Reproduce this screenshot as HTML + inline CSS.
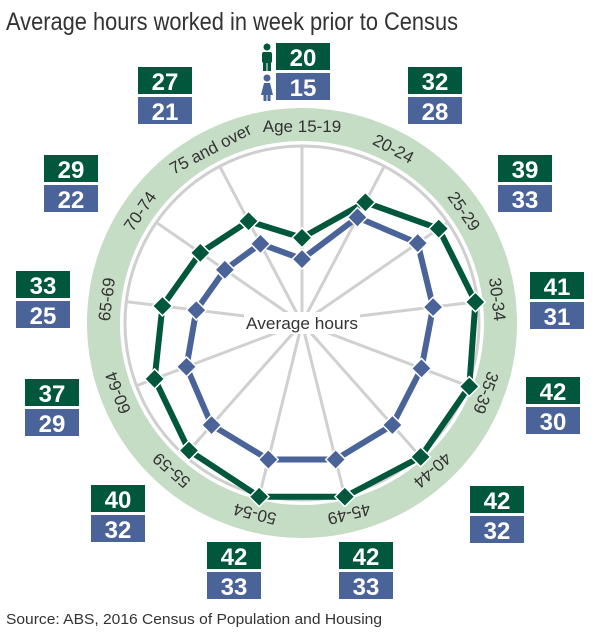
<!DOCTYPE html>
<html><head><meta charset="utf-8"><style>
html,body{margin:0;padding:0;background:#fff;width:600px;height:643px;overflow:hidden}
svg{display:block;font-family:"Liberation Sans",sans-serif}
</style></head><body>
<svg id="s" width="600" height="643" viewBox="0 0 600 643">
<text x="6" y="30" font-size="25" fill="#333" textLength="452" lengthAdjust="spacingAndGlyphs">Average hours worked in week prior to Census</text>
<circle cx="302" cy="323" r="198.5" fill="none" stroke="#c5dcc5" stroke-width="33"/>
<circle cx="302" cy="323" r="177" fill="none" stroke="#cfcfcf" stroke-width="3"/>
<g id="spokes" stroke="#d0d0d0" stroke-width="3"></g>
<rect x="244" y="312" width="116" height="22" fill="#fff"/>
<text x="302" y="329" font-size="17" fill="#333" text-anchor="middle" textLength="112" lengthAdjust="spacingAndGlyphs">Average hours</text>
<g id="series"></g>
<g font-size="17" fill="#333" text-anchor="middle">
<text x="302" y="132" transform="rotate(0 302 323)">Age 15-19</text>
<text x="302" y="132" transform="rotate(27.69 302 323)">20-24</text>
<text x="302" y="132" transform="rotate(55.38 302 323)">25-29</text>
<text x="302" y="132" transform="rotate(83.08 302 323)">30-34</text>
<text x="302" y="132" transform="rotate(110.77 302 323)">35-39</text>
<text x="302" y="132" transform="rotate(138.46 302 323)">40-44</text>
<text x="302" y="132" transform="rotate(166.15 302 323)">45-49</text>
<text x="302" y="132" transform="rotate(193.85 302 323)">50-54</text>
<text x="302" y="132" transform="rotate(221.54 302 323)">55-59</text>
<text x="302" y="132" transform="rotate(249.23 302 323)">60-64</text>
<text x="302" y="132" transform="rotate(276.92 302 323)">65-69</text>
<text x="302" y="132" transform="rotate(304.62 302 323)">70-74</text>
<text x="302" y="132" transform="rotate(332.31 302 323)">75 and over</text>
</g>
<g font-size="24" font-weight="bold" fill="#fff" text-anchor="middle">
<rect x="276" y="43" width="54" height="27" fill="#00573b"/><rect x="276" y="73" width="54" height="27" fill="#4a6399"/><text x="303" y="66">20</text><text x="303" y="96">15</text>
<rect x="408" y="67" width="54" height="27" fill="#00573b"/><rect x="408" y="97" width="54" height="27" fill="#4a6399"/><text x="435" y="90">32</text><text x="435" y="120">28</text>
<rect x="498" y="155" width="54" height="27" fill="#00573b"/><rect x="498" y="185" width="54" height="27" fill="#4a6399"/><text x="525" y="178">39</text><text x="525" y="208">33</text>
<rect x="530" y="272" width="54" height="27" fill="#00573b"/><rect x="530" y="302" width="54" height="27" fill="#4a6399"/><text x="557" y="295">41</text><text x="557" y="325">31</text>
<rect x="526" y="377" width="54" height="27" fill="#00573b"/><rect x="526" y="407" width="54" height="27" fill="#4a6399"/><text x="553" y="400">42</text><text x="553" y="430">30</text>
<rect x="470" y="486" width="54" height="27" fill="#00573b"/><rect x="470" y="516" width="54" height="27" fill="#4a6399"/><text x="497" y="509">42</text><text x="497" y="539">32</text>
<rect x="339" y="542" width="54" height="27" fill="#00573b"/><rect x="339" y="572" width="54" height="27" fill="#4a6399"/><text x="366" y="565">42</text><text x="366" y="595">33</text>
<rect x="207" y="542" width="54" height="27" fill="#00573b"/><rect x="207" y="572" width="54" height="27" fill="#4a6399"/><text x="234" y="565">42</text><text x="234" y="595">33</text>
<rect x="91" y="485" width="54" height="27" fill="#00573b"/><rect x="91" y="515" width="54" height="27" fill="#4a6399"/><text x="118" y="508">40</text><text x="118" y="538">32</text>
<rect x="25" y="379" width="54" height="27" fill="#00573b"/><rect x="25" y="409" width="54" height="27" fill="#4a6399"/><text x="52" y="402">37</text><text x="52" y="432">29</text>
<rect x="16" y="271" width="54" height="27" fill="#00573b"/><rect x="16" y="301" width="54" height="27" fill="#4a6399"/><text x="43" y="294">33</text><text x="43" y="324">25</text>
<rect x="44" y="155" width="54" height="27" fill="#00573b"/><rect x="44" y="185" width="54" height="27" fill="#4a6399"/><text x="71" y="178">29</text><text x="71" y="208">22</text>
<rect x="138" y="67" width="54" height="27" fill="#00573b"/><rect x="138" y="97" width="54" height="27" fill="#4a6399"/><text x="165" y="90">27</text><text x="165" y="120">21</text>
</g>
<g fill="#00573b"><circle cx="267" cy="47" r="3.5"/><rect x="262" y="52" width="10" height="11" rx="2"/><rect x="263" y="60" width="3.5" height="11"/><rect x="267.5" y="60" width="3.5" height="11"/></g>
<g fill="#4a6399"><circle cx="267" cy="78" r="3.5"/><polygon points="264,83 270,83 273,95 261,95"/><rect x="263.5" y="94" width="3" height="7"/><rect x="267.5" y="94" width="3" height="7"/></g>
<text x="6" y="624" font-size="14.5" fill="#333" textLength="376" lengthAdjust="spacingAndGlyphs">Source: ABS, 2016 Census of Population and Housing</text>
</svg>
<script>
var cx=302,cy=323,k=4.26,n=13,NS="http://www.w3.org/2000/svg";
var men=[20,32,39,41,42,42,42,42,40,37,33,29,27],wom=[15,28,33,31,30,32,33,33,32,29,25,22,21];
function pt(i,v){var a=i*2*Math.PI/n;return [cx+v*k*Math.sin(a),cy-v*k*Math.cos(a)];}
var sp=document.getElementById('spokes');
for(var i=0;i<n;i++){var p=pt(i,177/k);var l=document.createElementNS(NS,'line');l.setAttribute('x1',cx);l.setAttribute('y1',cy);l.setAttribute('x2',p[0]);l.setAttribute('y2',p[1]);sp.appendChild(l);}
var g=document.getElementById('series');
[[men,'#00573b'],[wom,'#4a6399']].forEach(function(s){
 var pts=s[0].map(function(v,i){return pt(i,v);});
 var pg=document.createElementNS(NS,'polygon');pg.setAttribute('points',pts.map(function(p){return p.join(',')}).join(' '));
 pg.setAttribute('fill','none');pg.setAttribute('stroke',s[1]);pg.setAttribute('stroke-width','6');g.appendChild(pg);
 pts.forEach(function(p){var r=document.createElementNS(NS,'rect');r.setAttribute('x',p[0]-7);r.setAttribute('y',p[1]-7);r.setAttribute('width',14);r.setAttribute('height',14);
 r.setAttribute('fill',s[1]);r.setAttribute('stroke','#fff');r.setAttribute('stroke-width','1.5');r.setAttribute('transform','rotate(45 '+p[0]+' '+p[1]+')');g.appendChild(r);});
});
</script>
</body></html>
